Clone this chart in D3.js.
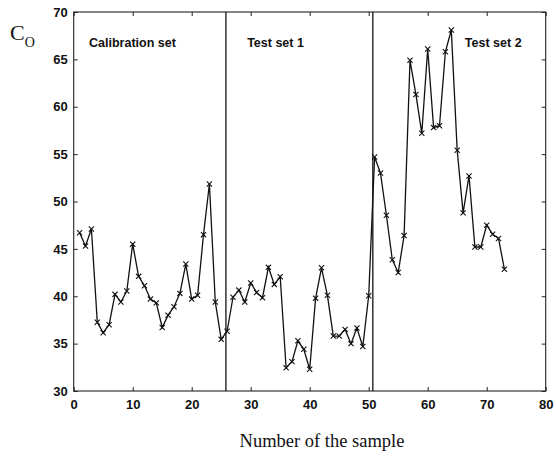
<!DOCTYPE html>
<html><head><meta charset="utf-8">
<script src="https://cdn.jsdelivr.net/npm/d3@7"></script>
<style>body{margin:0;background:#fff}svg{display:block}</style>
</head><body>
<svg id="c" width="556" height="456"></svg>
<script>
const sampleNo = d3.range(1, 74);
const co = [46.7,45.3,47.1,37.25,36.15,37.0,40.2,39.4,40.55,45.5,
  42.1,41.1,39.7,39.3,36.7,38.0,38.9,40.3,43.4,39.7,
  40.1,46.5,51.85,39.4,35.45,36.3,39.9,40.65,39.4,41.4,
  40.4,39.85,43.05,41.25,42.05,32.45,33.1,35.3,34.4,32.3,
  39.8,43.0,40.1,35.8,35.8,36.5,35.0,36.65,34.7,40.05,
  54.7,53.0,48.55,43.85,42.5,46.4,64.9,61.3,57.2,66.1,
  57.8,58.0,65.8,68.1,55.4,48.8,52.7,45.2,45.2,47.5,
  46.55,46.1,42.85];
const separators = [25.8, 50.7];
const setLabels = ["Calibration set", "Test set 1", "Test set 2"];
const setLabelX = [2.6, 29.4, 66.3];
const xTicks = [0,10,20,30,40,50,60,70,80];
const yTicks = [30,35,40,45,50,55,60,65,70];

const svg = d3.select("#c");
const L = 73.7, R = 545.7, T = 12, B = 391;
const x = d3.scaleLinear().domain([0,80]).range([L,R]);
const y = d3.scaleLinear().domain([30,70]).range([B,T]);
const tickFont = "Liberation Sans, Arial, sans-serif";

// frame
svg.append("rect").attr("x",L).attr("y",T).attr("width",R-L).attr("height",B-T)
  .attr("fill","none").attr("stroke","#222").attr("stroke-width",1.1);

// axes with inward ticks
const axB = svg.append("g").attr("transform",`translate(0,${B})`)
  .call(d3.axisBottom(x).tickValues(xTicks).tickSize(-4).tickPadding(9));
const axT = svg.append("g").attr("transform",`translate(0,${T})`)
  .call(d3.axisTop(x).tickValues(xTicks).tickSize(-4).tickFormat(""));
const axL = svg.append("g").attr("transform",`translate(${L},0)`)
  .call(d3.axisLeft(y).tickValues(yTicks).tickSize(-4).tickPadding(6));
const axR = svg.append("g").attr("transform",`translate(${R},0)`)
  .call(d3.axisRight(y).tickValues(yTicks).tickSize(-4).tickFormat(""));
[axB,axT,axL,axR].forEach(g=>{
  g.select(".domain").remove();
  g.selectAll(".tick line").attr("stroke","#222");
  g.selectAll("text").attr("font-family",tickFont).attr("font-size",13)
   .attr("font-weight","bold").attr("fill","#111");
});

// separators
svg.selectAll("line.sep").data(separators).join("line").attr("class","sep")
  .attr("x1",d=>x(d)).attr("x2",d=>x(d)).attr("y1",T).attr("y2",B)
  .attr("stroke","#111").attr("stroke-width",1.3);

// set labels
svg.selectAll("text.setl").data(setLabels).join("text").attr("class","setl")
  .attr("x",(d,i)=>x(setLabelX[i])).attr("y",47)
  .attr("font-family",tickFont).attr("font-size",12.5).attr("font-weight","bold")
  .attr("fill","#111").text(d=>d);

// line
const pts = sampleNo.map((n,i)=>[n,co[i]]);
svg.append("path").datum(pts)
  .attr("d", d3.line().x(d=>x(d[0])).y(d=>y(d[1])))
  .attr("fill","none").attr("stroke","#111").attr("stroke-width",1.3);

// x markers
const s = 2.6;
svg.selectAll("path.mk").data(pts).join("path").attr("class","mk")
  .attr("d", d=>{const cx=x(d[0]), cy=y(d[1]);
    return `M${cx-s},${cy-s}L${cx+s},${cy+s}M${cx-s},${cy+s}L${cx+s},${cy-s}`;})
  .attr("stroke","#111").attr("stroke-width",1.1);

// axis titles
const yl = svg.append("text").attr("x",10).attr("y",40)
  .attr("font-family","Liberation Serif, Times New Roman, serif").attr("font-size",22).attr("fill","#111");
yl.append("tspan").text("C");
yl.append("tspan").attr("font-size",14).attr("dy",7).text("O");

svg.append("text").attr("x",322).attr("y",447).attr("text-anchor","middle")
  .attr("font-family","Liberation Serif, Times New Roman, serif").attr("font-size",18.5)
  .attr("fill","#111").text("Number of the sample");
</script>
</body></html>
